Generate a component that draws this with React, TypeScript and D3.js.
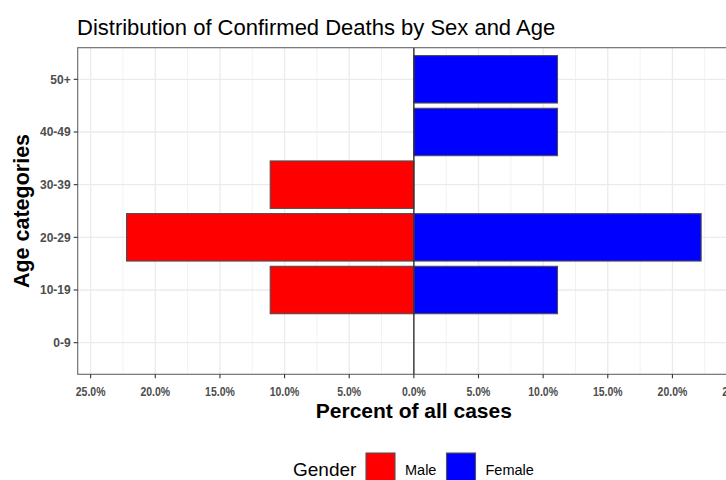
import React from "react";
import * as d3 from "d3";

const ageGroups = ["0-9", "10-19", "20-29", "30-39", "40-49", "50+"];
const malePct = [0, 11.11, 22.22, 11.11, 0, 0];
const femalePct = [0, 11.11, 22.22, 0, 11.11, 11.11];
const xTicks = [-25, -20, -15, -10, -5, 0, 5, 10, 15, 20, 25];
const legendItems = [
  { label: "Male", color: "#FF0000" },
  { label: "Female", color: "#0000FF" },
];

const W = 726;
const H = 480;
const FONT = "Arial, 'Liberation Sans', Helvetica, sans-serif";

export default function App() {
  const panel = { left: 77.7, right: 750, top: 47.7, bottom: 374.3 };
  const x = d3.scaleLinear().domain([-26, 26]).range([panel.left, panel.right]);
  const y = d3
    .scalePoint<string>()
    .domain([...ageGroups].reverse())
    .range([panel.top, panel.bottom])
    .padding(0.6);
  const step = y.step();
  const barH = step * 0.9;

  const minorTicks = d3.range(-27.5, 30, 5).filter((v) => x(v) >= panel.left && x(v) <= panel.right);

  const bars: { key: string; x0: number; x1: number; yc: number; fill: string }[] = [];
  ageGroups.forEach((g, i) => {
    if (malePct[i] > 0)
      bars.push({ key: "m" + g, x0: x(-malePct[i]), x1: x(0), yc: y(g)!, fill: legendItems[0].color });
    if (femalePct[i] > 0)
      bars.push({ key: "f" + g, x0: x(0), x1: x(femalePct[i]), yc: y(g)!, fill: legendItems[1].color });
  });

  const fmt = (v: number) => d3.format(".1f")(Math.abs(v)) + "%";

  return (
    <svg
      width={W}
      height={H}
      style={{ position: "absolute", left: 0, top: 0, background: "#fff" }}
      fontFamily={FONT}
    >
      <rect x={0} y={0} width={W} height={H} fill="#fff" />
      <text x={77} y={35} fontSize={22} fill="#000">
        Distribution of Confirmed Deaths by Sex and Age
      </text>

      {/* grid */}
      {minorTicks.map((v) => (
        <line key={"mn" + v} x1={x(v)} x2={x(v)} y1={panel.top} y2={panel.bottom} stroke="#f2f2f2" strokeWidth={1} />
      ))}
      {xTicks.map((v) => (
        <line key={"mj" + v} x1={x(v)} x2={x(v)} y1={panel.top} y2={panel.bottom} stroke="#ebebeb" strokeWidth={1.3} />
      ))}
      {ageGroups.map((g) => (
        <line key={"hg" + g} x1={panel.left} x2={panel.right} y1={y(g)} y2={y(g)} stroke="#ebebeb" strokeWidth={1.3} />
      ))}

      {/* bars */}
      {bars.map((b) => (
        <rect
          key={b.key}
          x={b.x0}
          y={b.yc - barH / 2}
          width={b.x1 - b.x0}
          height={barH}
          fill={b.fill}
          stroke="#4d4d4d"
          strokeWidth={1.1}
        />
      ))}

      {/* zero line */}
      <line x1={x(0)} x2={x(0)} y1={panel.top} y2={panel.bottom} stroke="#333" strokeWidth={1.4} />

      {/* panel border */}
      <rect
        x={panel.left}
        y={panel.top}
        width={panel.right - panel.left}
        height={panel.bottom - panel.top}
        fill="none"
        stroke="#666"
        strokeWidth={1.1}
      />

      {/* y axis */}
      {ageGroups.map((g) => (
        <g key={"yt" + g}>
          <line x1={panel.left - 4} x2={panel.left} y1={y(g)} y2={y(g)} stroke="#333" strokeWidth={1.1} />
          <text x={panel.left - 7} y={y(g)} dy="0.36em" textAnchor="end" fontSize={12} fontWeight="bold" fill="#4d4d4d">
            {g}
          </text>
        </g>
      ))}

      {/* x axis */}
      {xTicks.map((v) => (
        <g key={"xt" + v}>
          <line x1={x(v)} x2={x(v)} y1={panel.bottom} y2={panel.bottom + 4} stroke="#333" strokeWidth={1.1} />
          <text
            transform={`translate(${x(v)}, 396) scale(0.84, 1)`}
            textAnchor="middle"
            fontSize={12.5}
            fontWeight="bold"
            fill="#4d4d4d"
          >
            {fmt(v)}
          </text>
        </g>
      ))}

      <text x={(panel.left + panel.right) / 2} y={418} textAnchor="middle" fontSize={21} fontWeight="bold" fill="#000">
        Percent of all cases
      </text>
      <text
        transform={`translate(29, ${(panel.top + panel.bottom) / 2}) rotate(-90)`}
        textAnchor="middle"
        fontSize={21.5}
        fontWeight="bold"
        fill="#000"
      >
        Age categories
      </text>

      {/* legend */}
      <text x={293} y={476} fontSize={19} fill="#000">
        Gender
      </text>
      {legendItems.map((it, i) => {
        const kx = i === 0 ? 366 : 446.5;
        return (
          <g key={it.label}>
            <rect x={kx} y={453} width={29} height={32} fill={it.color} stroke="#555" strokeWidth={1.1} />
            <text x={kx + 39} y={475} fontSize={14.5} fill="#000">
              {it.label}
            </text>
          </g>
        );
      })}
    </svg>
  );
}
